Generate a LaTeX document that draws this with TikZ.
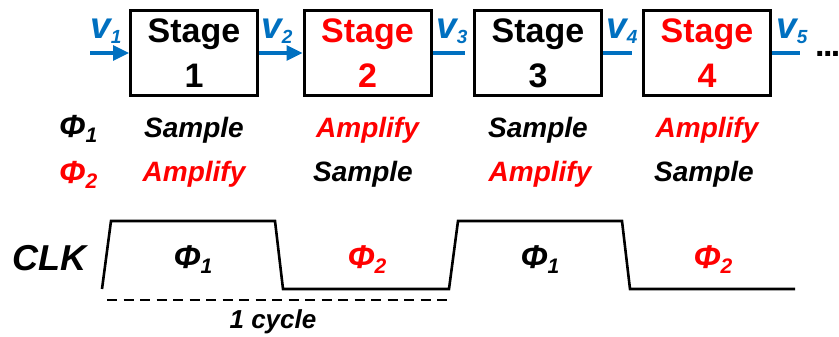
\documentclass[tikz,border=0pt]{standalone}
\usepackage{fontspec}
\setmainfont{Liberation Sans}
\usetikzlibrary{arrows.meta}
\definecolor{vblue}{HTML}{0070C0}
\definecolor{pred}{HTML}{FF0000}
\newcommand{\fsz}[1]{\fontsize{#1}{#1}\selectfont}
\newcommand{\subsc}[2]{\raisebox{-5pt}{\fontsize{#1}{#1}\selectfont #2}}
\begin{document}
\begin{tikzpicture}[x=1pt,y=-1pt,
  stagebox/.style={draw, line width=3pt, minimum width=127pt, minimum height=85pt,
    inner sep=0pt, align=center, font=\bfseries\fontsize{34}{45}\selectfont},
  vlab/.style={anchor=base west, inner sep=0pt, text=vblue, font=\bfseries\itshape\fsz{37}},
  sig/.style={line width=3.2pt, draw=vblue},
  sigarrow/.style={sig, -{Triangle[length=16pt,width=15pt]}},
  rowtxt/.style={anchor=base, inner sep=0pt, font=\bfseries\itshape\fsz{28}},
  philab/.style={anchor=base west, inner sep=0pt, font=\bfseries\itshape\fsz{32}},
  clkphi/.style={anchor=base, inner sep=0pt, font=\bfseries\itshape\fsz{33}},
  wave/.style={line width=2.6pt, line join=miter},
  cyc/.style={line width=1.3pt, dash pattern=on 10pt off 6.5pt}
]
\useasboundingbox (0,0) rectangle (839,337);

% stages
\node[stagebox] (s1) at (194,53) {Stage\\1};
\node[stagebox, text=pred] (s2) at (367.5,53) {Stage\\2};
\node[stagebox] (s3) at (538,53) {Stage\\3};
\node[stagebox, text=pred] (s4) at (707,53) {Stage\\4};

% signals
\coordinate (in1) at (90,53);
\coordinate (e3) at (465,53);
\coordinate (e4) at (632,53);
\coordinate (e5) at (800,53);
\draw[sigarrow] (in1) -- (s1.west);
\draw[sigarrow] (s1.east) -- (s2.west);
\draw[sig] (s2.east) -- (e3);
\draw[sig] (s3.east) -- (e4);
\draw[sig] (s4.east) -- (e5);

\node[vlab] (v1) at (90,39) {v\subsc{19}{1}};
\node[vlab] (v2) at (261,39) {v\subsc{19}{2}};
\node[vlab] (v3) at (436,39) {v\subsc{19}{3}};
\node[vlab] (v4) at (606,39) {v\subsc{19}{4}};
\node[vlab] (v5) at (776,39) {v\subsc{19}{5}};
\node[anchor=base west, inner sep=0pt, font=\bfseries\fsz{34}] (dots) at (815,57) {.\kern-1.6pt.\kern-1.6pt.};

% phase rows
\node[philab] (p1) at (59,138) {Φ\subsc{21}{1}};
\node[philab, text=pred] (p2) at (59,183) {Φ\subsc{21}{2}};

\node[rowtxt] (r11) at (194,137) {Sample};
\node[rowtxt, text=pred] (r12) at (367.5,137) {Amplify};
\node[rowtxt] (r13) at (538,137) {Sample};
\node[rowtxt, text=pred] (r14) at (707,137) {Amplify};
\node[rowtxt, text=pred] (r21) at (194,182) {Amplify};
\node[rowtxt] (r22) at (363,182) {Sample};
\node[rowtxt, text=pred] (r23) at (540,182) {Amplify};
\node[rowtxt] (r24) at (704,182) {Sample};

% clock
\node[anchor=base west, inner sep=0pt, font=\bfseries\itshape\fsz{36}] (clk) at (12,270) {CLK};
\draw[wave] (102,289) -- (111,221) -- (275,221) -- (283,289) -- (449,289)
  -- (458,221) -- (622,221) -- (630,289) -- (795,289);

\node[clkphi] (c1) at (193,268) {Φ\subsc{21}{1}};
\node[clkphi, text=pred] (c2) at (367,268) {Φ\subsc{21}{2}};
\node[clkphi] (c3) at (540,268) {Φ\subsc{21}{1}};
\node[clkphi, text=pred] (c4) at (713,268) {Φ\subsc{21}{2}};

\coordinate (d0) at (107,300);
\coordinate (d1) at (447,300);
\draw[cyc] (d0) -- (d1);
\node[anchor=base, inner sep=0pt, font=\bfseries\itshape\fsz{26}] (cyc) at (273,328) {1 cycle};
\end{tikzpicture}
\end{document}
